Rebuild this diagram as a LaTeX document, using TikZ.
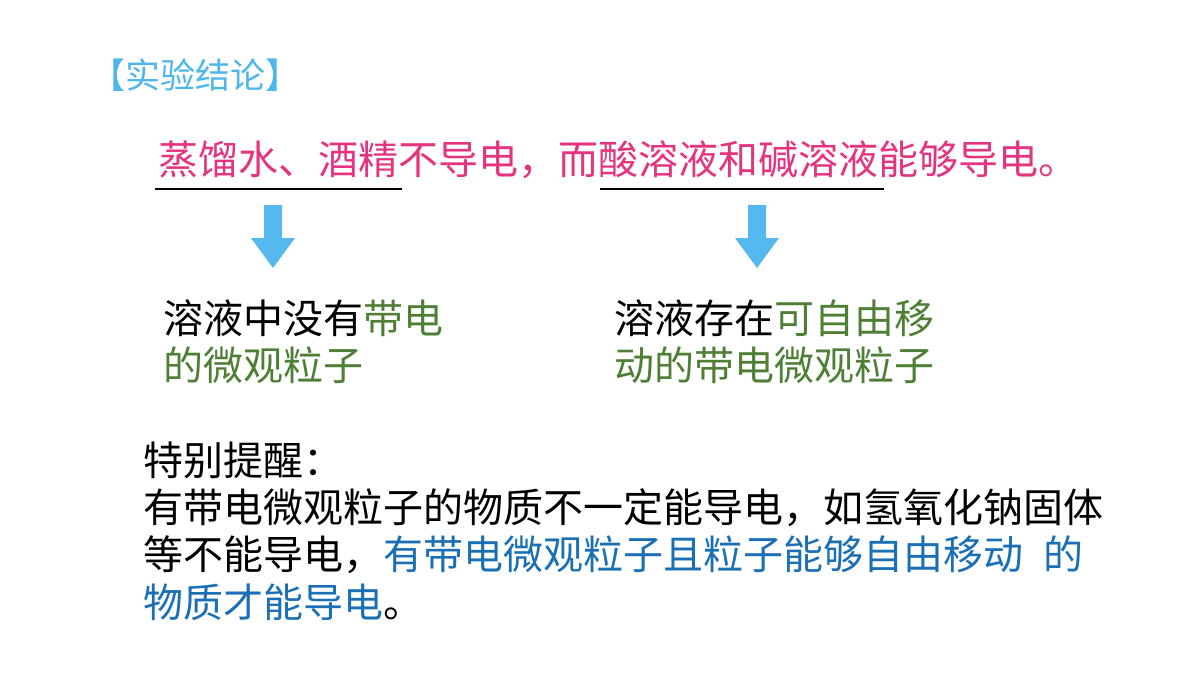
\documentclass[tikz,border=0pt]{standalone}
\usepackage{fontspec}
\newfontfamily\cjk{Noto Sans CJK SC}
\definecolor{ttl}{HTML}{4DB6EA}
\definecolor{mag}{HTML}{E4347F}
\definecolor{grn}{HTML}{4E7F35}
\definecolor{blu}{HTML}{1A6FB5}
\definecolor{arr}{HTML}{55B9F0}
\begin{document}
\begin{tikzpicture}[x=0.5pt,y=-0.5pt,
 txt/.style={anchor=west,inner sep=0pt,font=\cjk\fontsize{20}{24}\selectfont},
 ttxt/.style={anchor=west,inner sep=0pt,font=\cjk\fontsize{17.5}{20}\selectfont,text=ttl},
 ul/.style={line width=1.2pt}]
\useasboundingbox (0,0) rectangle (1200,675);
\node[ttxt] (t) at (90,75) {【实验结论】};
\node[txt,text=mag] (l1) at (158,160) {蒸馏水、酒精不导电，而酸溶液和碱溶液能够导电。};
\coordinate (u1a) at (155,189); \coordinate (u1b) at (402,189);
\coordinate (u2a) at (600,189); \coordinate (u2b) at (884,189);
\draw[ul] (u1a) -- (u1b); \draw[ul] (u2a) -- (u2b);
\foreach \x/\n in {273/a1,757/a2}{
 \fill[arr] (\x-9,205) -- (\x+9,205) -- (\x+9,238) -- (\x+22,238) -- (\x,268) -- (\x-22,238) -- (\x-9,238) -- cycle;
}
\node[txt] (ll1) at (163,318) {溶液中没有\textcolor{grn}{带电}};
\node[txt,text=grn] (ll2) at (163,365) {的微观粒子};
\node[txt] (rl1) at (614,318) {溶液存在\textcolor{grn}{可自由移}};
\node[txt,text=grn] (rl2) at (614,365) {动的带电微观粒子};
\node[txt] (n0) at (143,460) {特别提醒：};
\node[txt] (n1) at (143,508) {有带电微观粒子的物质不一定能导电，如氢氧化钠固体};
\node[txt] (n2) at (143,555) {等不能导电，\textcolor{blu}{有带电微观粒子且粒子能够自由移动\hspace{0.5em}的}};
\node[txt] (n3) at (143,602) {\textcolor{blu}{物质才能导电}。};
\end{tikzpicture}
\end{document}
